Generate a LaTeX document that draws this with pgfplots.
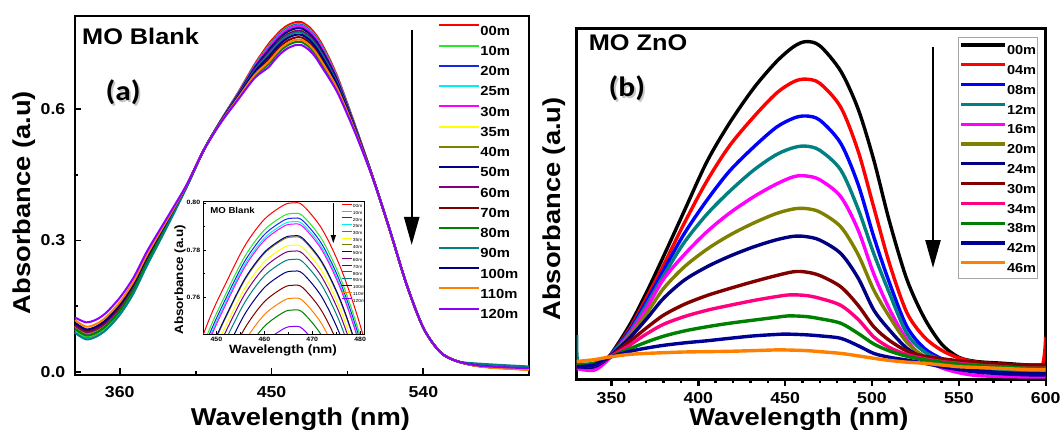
\documentclass[border=0pt]{standalone}
\usepackage{pgfplots}
\pgfplotsset{compat=1.18}
\usepackage{pgfplotstable}
\usepackage{fontspec}
\setmainfont{Liberation Sans}[FakeStretch=1.12]
\newfontfamily\calib{Carlito}[FakeStretch=1.12]
\usetikzlibrary{arrows.meta}

\definecolor{cA00}{RGB}{255,0,0}
\definecolor{cA10}{RGB}{40,230,40}
\definecolor{cA20}{RGB}{20,40,230}
\definecolor{cA25}{RGB}{0,240,240}
\definecolor{cA30}{RGB}{255,0,255}
\definecolor{cA35}{RGB}{255,255,0}
\definecolor{cA40}{RGB}{128,128,0}
\definecolor{cA50}{RGB}{0,0,140}
\definecolor{cA60}{RGB}{128,0,128}
\definecolor{cA70}{RGB}{128,0,0}
\definecolor{cA80}{RGB}{0,128,0}
\definecolor{cA90}{RGB}{0,128,128}
\definecolor{cA100}{RGB}{0,0,128}
\definecolor{cA110}{RGB}{255,128,0}
\definecolor{cA120}{RGB}{140,0,255}

\definecolor{cB00}{RGB}{0,0,0}
\definecolor{cB04}{RGB}{255,0,0}
\definecolor{cB08}{RGB}{0,0,255}
\definecolor{cB12}{RGB}{0,128,128}
\definecolor{cB16}{RGB}{255,0,255}
\definecolor{cB20}{RGB}{128,128,0}
\definecolor{cB24}{RGB}{0,0,128}
\definecolor{cB30}{RGB}{128,0,0}
\definecolor{cB34}{RGB}{255,0,128}
\definecolor{cB38}{RGB}{0,128,0}
\definecolor{cB42}{RGB}{0,0,150}
\definecolor{cB46}{RGB}{255,128,0}

\pgfplotstableread{
x c00 c10 c20 c25 c30 c35 c40 c50 c60 c70 c80 c90 c100 c110 c120
333.5 0.092 0.096 0.102 0.090 0.100 0.104 0.104 0.108 0.106 0.110 0.098 0.089 0.112 0.118 0.124
340 0.077 0.081 0.087 0.075 0.085 0.089 0.089 0.093 0.091 0.095 0.083 0.074 0.097 0.103 0.113
346 0.083 0.087 0.093 0.081 0.091 0.095 0.095 0.099 0.097 0.101 0.089 0.080 0.103 0.109 0.119
352 0.099 0.103 0.109 0.097 0.107 0.111 0.111 0.115 0.113 0.117 0.105 0.096 0.119 0.125 0.135
360 0.133 0.137 0.143 0.131 0.141 0.145 0.145 0.149 0.147 0.151 0.139 0.130 0.153 0.159 0.169
368 0.181 0.185 0.190 0.179 0.188 0.192 0.192 0.196 0.194 0.198 0.187 0.178 0.199 0.205 0.214
376 0.244 0.247 0.252 0.242 0.251 0.254 0.254 0.257 0.256 0.259 0.249 0.242 0.261 0.266 0.274
384 0.303 0.306 0.310 0.302 0.308 0.311 0.311 0.313 0.312 0.315 0.307 0.301 0.316 0.320 0.326
392 0.363 0.365 0.367 0.362 0.366 0.368 0.368 0.369 0.369 0.370 0.365 0.362 0.371 0.373 0.377
400 0.425 0.426 0.427 0.425 0.426 0.427 0.427 0.427 0.427 0.428 0.426 0.425 0.428 0.429 0.430
410 0.508 0.508 0.508 0.508 0.508 0.508 0.508 0.508 0.508 0.508 0.508 0.508 0.508 0.508 0.508
420 0.5750 0.5745 0.5744 0.5742 0.5741 0.5732 0.5736 0.5736 0.5730 0.5715 0.5705 0.5726 0.5721 0.5710 0.5698
430 0.6370 0.6357 0.6351 0.6346 0.6343 0.6316 0.6327 0.6328 0.6309 0.6265 0.6234 0.6298 0.6283 0.6249 0.6213
440 0.7030 0.7003 0.6991 0.6982 0.6976 0.6922 0.6943 0.6946 0.6907 0.6820 0.6757 0.6886 0.6856 0.6787 0.6715
448 0.7480 0.7435 0.7415 0.7400 0.7390 0.7300 0.7335 0.7340 0.7275 0.7130 0.7025 0.7240 0.7190 0.7075 0.6955
452 0.7660 0.7615 0.7595 0.7580 0.7570 0.7480 0.7515 0.7520 0.7455 0.7310 0.7205 0.7420 0.7370 0.7255 0.7135
456 0.7820 0.7775 0.7755 0.7740 0.7730 0.7640 0.7675 0.7680 0.7615 0.7470 0.7365 0.7580 0.7530 0.7415 0.7295
460 0.7930 0.7885 0.7865 0.7850 0.7840 0.7750 0.7785 0.7790 0.7725 0.7580 0.7475 0.7690 0.7640 0.7525 0.7405
464 0.7990 0.7945 0.7925 0.7910 0.7900 0.7810 0.7845 0.7850 0.7785 0.7640 0.7535 0.7750 0.7700 0.7585 0.7465
466 0.8000 0.7955 0.7935 0.7920 0.7910 0.7820 0.7855 0.7860 0.7795 0.7650 0.7545 0.7760 0.7710 0.7595 0.7475
468 0.7990 0.7945 0.7925 0.7910 0.7900 0.7810 0.7845 0.7850 0.7785 0.7640 0.7535 0.7750 0.7700 0.7585 0.7465
472 0.7890 0.7845 0.7825 0.7810 0.7800 0.7710 0.7745 0.7750 0.7685 0.7540 0.7435 0.7650 0.7600 0.7485 0.7365
476 0.7720 0.7675 0.7655 0.7640 0.7630 0.7540 0.7575 0.7580 0.7515 0.7370 0.7265 0.7480 0.7430 0.7315 0.7195
480 0.7480 0.7435 0.7415 0.7400 0.7390 0.7300 0.7335 0.7340 0.7275 0.7130 0.7025 0.7240 0.7190 0.7075 0.6955
485 0.7100 0.7062 0.7045 0.7032 0.7023 0.6947 0.6977 0.6981 0.6926 0.6802 0.6713 0.6896 0.6853 0.6756 0.6654
490 0.6650 0.6621 0.6608 0.6598 0.6591 0.6533 0.6556 0.6559 0.6517 0.6422 0.6354 0.6494 0.6461 0.6387 0.6309
500 0.5580 0.5567 0.5560 0.5556 0.5553 0.5526 0.5536 0.5538 0.5518 0.5475 0.5443 0.5508 0.5493 0.5458 0.5422
510 0.4450 0.4448 0.4447 0.4446 0.4445 0.4441 0.4443 0.4443 0.4440 0.4432 0.4427 0.4438 0.4435 0.4430 0.4424
520 0.325 0.325 0.325 0.325 0.325 0.325 0.325 0.325 0.325 0.325 0.325 0.325 0.325 0.325 0.325
530 0.200 0.200 0.200 0.200 0.200 0.200 0.200 0.200 0.200 0.200 0.200 0.200 0.200 0.200 0.200
540 0.100 0.100 0.100 0.100 0.100 0.100 0.100 0.100 0.100 0.100 0.100 0.100 0.100 0.100 0.100
550 0.045 0.045 0.045 0.045 0.045 0.045 0.045 0.045 0.045 0.045 0.045 0.045 0.045 0.045 0.045
560 0.024 0.024 0.024 0.024 0.024 0.024 0.024 0.024 0.024 0.024 0.024 0.024 0.024 0.024 0.024
575 0.012 0.012 0.012 0.016 0.012 0.012 0.012 0.013 0.012 0.012 0.012 0.018 0.013 0.011 0.013
602.6 0.005 0.006 0.006 0.010 0.006 0.005 0.006 0.007 0.006 0.005 0.006 0.012 0.007 0.004 0.008
}\tabA

\pgfplotsset{
  every tick label/.append style={font=\bfseries\fontsize{7.9pt}{9pt}\selectfont},
  /pgf/number format/assume math mode=true,
  label style={font=\bfseries\fontsize{12.2pt}{14pt}\selectfont},
}

\begin{document}
\begin{tikzpicture}
\useasboundingbox (0pt,0pt) rectangle (530pt,214.5pt);

% ---------------- panel (a) ----------------
\begin{axis}[name=A, at={(37.25pt,27pt)}, anchor=south west,
  scale only axis, width=227.25pt, height=179.65pt,
  xmin=333.2, xmax=602.6, ymin=-0.0075, ymax=0.814,
  xtick={360,450,540}, ytick={0,0.3,0.6},
  minor x tick num=1, minor y tick num=1,
  tick align=inside, xtick pos=left, ytick pos=left,
  major tick length=3.3pt, minor tick length=1.8pt,
  every tick/.style={black, line width=0.9pt},
  axis line style={line width=1pt},
  yticklabel style={/pgf/number format/fixed, /pgf/number format/precision=1, /pgf/number format/fixed zerofill, inner sep=0pt, xshift=-4.4pt},
  xticklabel style={inner sep=0pt, yshift=-5.5pt},
  xlabel={Wavelength (nm)}, ylabel={Absorbance (a.u)},
  xlabel style={at={(axis description cs:0.497,-0.140)}, anchor=base},
  ylabel style={at={(axis description cs:-0.110,0.48)}, anchor=center},
  legend style={at={(0.7998,0.977)}, anchor=north west, draw=none, fill=none,
    font=\bfseries\fontsize{6.6pt}{7pt}\selectfont, inner sep=0pt, row sep=4.72pt,
    nodes={inner sep=0pt, text height=5pt, text depth=0pt}},
  legend cell align=left,
  /tikz/every even column/.append style={column sep=2.5pt},
  legend image code/.code={\draw[#1, line width=1pt] (0pt,2.4pt) -- (20pt,2.4pt);},
  every axis plot/.append style={line width=1pt, smooth},
]
\addplot[cA00] table[x=x,y=c00]{\tabA}; \addlegendentry{00m}
\addplot[cA10] table[x=x,y=c10]{\tabA}; \addlegendentry{10m}
\addplot[cA20] table[x=x,y=c20]{\tabA}; \addlegendentry{20m}
\addplot[cA25] table[x=x,y=c25]{\tabA}; \addlegendentry{25m}
\addplot[cA30] table[x=x,y=c30]{\tabA}; \addlegendentry{30m}
\addplot[cA35] table[x=x,y=c35]{\tabA}; \addlegendentry{35m}
\addplot[cA40] table[x=x,y=c40]{\tabA}; \addlegendentry{40m}
\addplot[cA50] table[x=x,y=c50]{\tabA}; \addlegendentry{50m}
\addplot[cA60] table[x=x,y=c60]{\tabA}; \addlegendentry{60m}
\addplot[cA70] table[x=x,y=c70]{\tabA}; \addlegendentry{70m}
\addplot[cA80] table[x=x,y=c80]{\tabA}; \addlegendentry{80m}
\addplot[cA90] table[x=x,y=c90]{\tabA}; \addlegendentry{90m}
\addplot[cA100] table[x=x,y=c100]{\tabA}; \addlegendentry{100m}
\addplot[cA110] table[x=x,y=c110]{\tabA}; \addlegendentry{110m}
\addplot[cA120] table[x=x,y=c120]{\tabA}; \addlegendentry{120m}
\node[anchor=west, font=\bfseries\fontsize{11.3pt}{13pt}\selectfont, inner sep=0pt] at (axis description cs:0.016,0.941) {MO Blank};
\node[font=\calib\bfseries\fontsize{14pt}{16pt}\selectfont, text=gray!45, inner sep=0pt] at ([xshift=0.9pt,yshift=-1pt]axis description cs:0.107,0.788) {(a)};
\node[font=\calib\bfseries\fontsize{14pt}{16pt}\selectfont, inner sep=0pt] at (axis description cs:0.107,0.788) {(a)};
\end{axis}

% ---------------- inset ----------------
\begin{axis}[name=I, at={(101.5pt,47.5pt)}, anchor=south west,
  scale only axis, width=80.5pt, height=66.15pt,
  axis background/.style={fill=white},
  xmin=447.2, xmax=480.8, ymin=0.7443, ymax=0.8005,
  xtick={450,460,470,480}, ytick={0.76,0.78,0.80},
  minor x tick num=1, minor y tick num=1,
  tick align=inside, xtick pos=left, ytick pos=left,
  major tick length=1.6pt, minor tick length=0.9pt,
  every tick/.style={black, line width=0.3pt},
  axis line style={line width=0.45pt},
  every tick label/.append style={font=\bfseries\fontsize{3.1pt}{3.5pt}\selectfont},
  yticklabel style={/pgf/number format/fixed, /pgf/number format/precision=2, /pgf/number format/fixed zerofill, inner sep=0pt, xshift=-1.2pt},
  xticklabel style={inner sep=0pt, yshift=-1.5pt},
  label style={font=\bfseries\fontsize{6pt}{7pt}\selectfont},
  xlabel={Wavelength (nm)}, ylabel={Absorbance (a.u)},
  xlabel style={at={(axis description cs:0.497,-0.121)}, anchor=center},
  ylabel style={at={(axis description cs:-0.143,0.41)}, anchor=center},
  legend style={at={(0.861,0.986)}, anchor=north west, draw=none, fill=none,
    font=\fontsize{2.2pt}{2.5pt}\selectfont, inner sep=0pt, row sep=1.55pt,
    nodes={inner sep=0pt, text height=1.6pt, text depth=0pt}},
  legend cell align=left,
  /tikz/every even column/.append style={column sep=0.8pt},
  legend image code/.code={\draw[#1, line width=0.45pt] (0pt,0.8pt) -- (5pt,0.8pt);},
  every axis plot/.append style={line width=0.5pt, smooth},
]
\addplot[cA00] table[x=x,y=c00]{\tabA}; \addlegendentry{00m}
\addplot[cA10] table[x=x,y=c10]{\tabA}; \addlegendentry{10m}
\addplot[cA20] table[x=x,y=c20]{\tabA}; \addlegendentry{20m}
\addplot[cA25] table[x=x,y=c25]{\tabA}; \addlegendentry{25m}
\addplot[cA30] table[x=x,y=c30]{\tabA}; \addlegendentry{30m}
\addplot[cA35] table[x=x,y=c35]{\tabA}; \addlegendentry{35m}
\addplot[cA40] table[x=x,y=c40]{\tabA}; \addlegendentry{40m}
\addplot[cA50] table[x=x,y=c50]{\tabA}; \addlegendentry{50m}
\addplot[cA60] table[x=x,y=c60]{\tabA}; \addlegendentry{60m}
\addplot[cA70] table[x=x,y=c70]{\tabA}; \addlegendentry{70m}
\addplot[cA80] table[x=x,y=c80]{\tabA}; \addlegendentry{80m}
\addplot[cA90] table[x=x,y=c90]{\tabA}; \addlegendentry{90m}
\addplot[cA100] table[x=x,y=c100]{\tabA}; \addlegendentry{100m}
\addplot[cA110] table[x=x,y=c110]{\tabA}; \addlegendentry{110m}
\addplot[cA120] table[x=x,y=c120]{\tabA}; \addlegendentry{120m}
\node[anchor=west, font=\bfseries\fontsize{4.3pt}{5pt}\selectfont, inner sep=0pt] at (axis description cs:0.043,0.937) {MO Blank};
\end{axis}

% ---------------- panel (b) ----------------
\begin{axis}[name=B, at={(288.35pt,25pt)}, anchor=south west,
  scale only axis, width=234.5pt, height=175.35pt,
  xmin=330, xmax=600, ymin=0, ymax=1,
  xtick={350,400,450,500,550,600}, ytick=\empty,
  minor x tick num=4,
  tick align=outside, xtick pos=left,
  major tick length=3.3pt, minor tick length=2pt,
  every tick/.style={black, line width=1.2pt},
  axis line style={line width=1.5pt},
  xticklabel style={inner sep=0pt, yshift=-3.4pt},
  xlabel={Wavelength (nm)}, ylabel={Absorbance (a.u)},
  xlabel style={at={(axis description cs:0.474,-0.134)}, anchor=base},
  ylabel style={at={(axis description cs:-0.048,0.485)}, anchor=center},
  legend style={at={(0.813,0.976)}, anchor=north west, draw=gray!70, line width=0.6pt, fill=white,
    font=\bfseries\fontsize{6.5pt}{7pt}\selectfont, inner xsep=0.6pt, inner ysep=3pt, row sep=4.2pt,
    nodes={inner sep=0pt, text height=5pt, text depth=0pt}},
  legend cell align=left,
  /tikz/every even column/.append style={column sep=0.8pt},
  legend image code/.code={\draw[#1, line width=1.6pt] (0pt,2.4pt) -- (22pt,2.4pt);},
  every axis plot/.append style={line width=1.7pt, smooth},
]
\addplot[cB00] coordinates {(330,0.040)(340,0.035)(348,0.060)(360,0.150)(370,0.245)(380,0.350)(392,0.480)(405,0.620)(418,0.730)(432,0.830)(445,0.905)(455,0.948)(462,0.962)(470,0.950)(482,0.878)(492,0.770)(501,0.625)(510,0.450)(520,0.285)(530,0.175)(540,0.100)(550,0.062)(560,0.050)(575,0.045)(590,0.040)(600,0.040)};
\addlegendentry{00m}
\addplot[cB04] coordinates {(330,0.045)(340,0.040)(348,0.060)(360,0.140)(370,0.230)(380,0.325)(392,0.445)(405,0.565)(418,0.665)(432,0.748)(445,0.815)(455,0.848)(462,0.855)(470,0.843)(482,0.775)(492,0.650)(501,0.490)(510,0.330)(520,0.190)(530,0.120)(540,0.082)(550,0.060)(560,0.048)(575,0.042)(590,0.038)(598,0.038)(600,0.120)};
\addlegendentry{04m}
\addplot[cB08] coordinates {(330,0.035)(340,0.038)(348,0.060)(360,0.135)(370,0.220)(380,0.310)(392,0.415)(405,0.510)(418,0.593)(432,0.662)(445,0.718)(455,0.744)(462,0.750)(470,0.738)(482,0.672)(492,0.555)(501,0.406)(510,0.275)(520,0.150)(530,0.088)(540,0.058)(550,0.040)(560,0.028)(575,0.020)(590,0.016)(600,0.015)};
\addlegendentry{08m}
\addplot[cB12] coordinates {(330,0.125)(331,0.040)(340,0.040)(348,0.060)(360,0.130)(370,0.210)(380,0.295)(392,0.390)(405,0.470)(418,0.535)(432,0.596)(445,0.640)(455,0.660)(462,0.664)(470,0.652)(482,0.596)(492,0.485)(501,0.358)(510,0.245)(520,0.130)(530,0.078)(540,0.055)(550,0.040)(560,0.030)(575,0.025)(590,0.020)(600,0.020)};
\addlegendentry{12m}
\addplot[cB16] coordinates {(330,0.030)(340,0.025)(348,0.055)(360,0.125)(370,0.200)(380,0.285)(392,0.355)(405,0.420)(418,0.473)(432,0.520)(445,0.556)(455,0.577)(462,0.579)(470,0.568)(482,0.520)(492,0.425)(501,0.300)(510,0.200)(520,0.112)(530,0.058)(540,0.032)(550,0.018)(560,0.010)(575,0.007)(590,0.006)(600,0.006)};
\addlegendentry{16m}
\addplot[cB20] coordinates {(330,0.040)(340,0.040)(348,0.060)(360,0.120)(370,0.185)(380,0.258)(392,0.320)(405,0.370)(418,0.410)(432,0.445)(445,0.472)(455,0.485)(462,0.486)(470,0.476)(482,0.434)(492,0.355)(501,0.254)(510,0.178)(520,0.105)(530,0.065)(540,0.047)(550,0.040)(560,0.038)(575,0.037)(590,0.036)(600,0.035)};
\addlegendentry{20m}
\addplot[cB24] coordinates {(330,0.035)(340,0.035)(348,0.060)(360,0.115)(370,0.170)(380,0.230)(392,0.282)(405,0.320)(418,0.350)(432,0.377)(445,0.397)(455,0.407)(462,0.406)(470,0.396)(482,0.358)(492,0.288)(501,0.197)(510,0.140)(520,0.088)(530,0.058)(540,0.042)(550,0.032)(560,0.024)(575,0.018)(590,0.015)(600,0.015)};
\addlegendentry{24m}
\addplot[cB30] coordinates {(330,0.040)(340,0.040)(348,0.060)(360,0.105)(370,0.145)(380,0.182)(392,0.213)(405,0.238)(418,0.258)(432,0.278)(445,0.295)(455,0.306)(462,0.305)(470,0.295)(482,0.263)(492,0.210)(501,0.149)(510,0.110)(520,0.080)(530,0.065)(540,0.058)(550,0.052)(560,0.048)(575,0.042)(590,0.040)(600,0.040)};
\addlegendentry{30m}
\addplot[cB34] coordinates {(330,0.035)(340,0.040)(348,0.060)(360,0.095)(370,0.128)(380,0.156)(392,0.178)(405,0.196)(418,0.210)(432,0.224)(445,0.235)(453,0.240)(462,0.238)(470,0.230)(482,0.210)(492,0.170)(501,0.120)(510,0.090)(520,0.070)(530,0.058)(540,0.050)(550,0.045)(560,0.040)(575,0.035)(590,0.030)(600,0.030)};
\addlegendentry{34m}
\addplot[cB38] coordinates {(330,0.040)(340,0.045)(348,0.060)(360,0.085)(370,0.105)(380,0.122)(392,0.137)(405,0.149)(418,0.159)(432,0.168)(445,0.176)(452,0.180)(462,0.178)(470,0.172)(482,0.159)(492,0.130)(501,0.100)(510,0.080)(520,0.065)(530,0.055)(540,0.048)(550,0.042)(560,0.038)(575,0.035)(590,0.030)(600,0.030)};
\addlegendentry{38m}
\addplot[cB42] coordinates {(330,0.035)(340,0.040)(348,0.060)(360,0.078)(370,0.088)(380,0.096)(392,0.103)(405,0.109)(418,0.116)(432,0.123)(445,0.127)(451,0.128)(462,0.126)(470,0.123)(482,0.116)(492,0.095)(501,0.073)(510,0.062)(520,0.054)(530,0.045)(540,0.035)(550,0.027)(560,0.020)(575,0.015)(590,0.012)(600,0.012)};
\addlegendentry{42m}
\addplot[cB46] coordinates {(330,0.050)(340,0.055)(348,0.062)(360,0.070)(370,0.073)(380,0.075)(392,0.077)(405,0.078)(418,0.079)(432,0.081)(445,0.083)(449,0.083)(462,0.081)(470,0.078)(482,0.073)(492,0.066)(501,0.059)(510,0.053)(520,0.048)(530,0.045)(540,0.040)(550,0.035)(560,0.033)(575,0.030)(590,0.027)(600,0.026)};
\addlegendentry{46m}
\node[anchor=west, font=\bfseries\fontsize{11.3pt}{13pt}\selectfont, inner sep=0pt] at (axis description cs:0.025,0.958) {MO ZnO};
\node[font=\calib\bfseries\fontsize{14pt}{16pt}\selectfont, text=gray!45, inner sep=0pt] at ([xshift=0.9pt,yshift=-1pt]axis description cs:0.107,0.83) {(b)};
\node[font=\calib\bfseries\fontsize{14pt}{16pt}\selectfont, inner sep=0pt] at (axis description cs:0.107,0.83) {(b)};
\end{axis}

% arrows
\draw[line width=1.2pt, -{Triangle[length=14pt,width=7.5pt]}] (205.85pt,199.5pt) -- (205.85pt,92pt);
\draw[line width=1.2pt, -{Triangle[length=14pt,width=7.5pt]}] (466.5pt,191.15pt) -- (466.5pt,80.5pt);
\draw[line width=0.5pt, -{Triangle[length=4pt,width=2.6pt]}] (166.65pt,113pt) -- (166.65pt,93pt);
\end{tikzpicture}
\end{document}
